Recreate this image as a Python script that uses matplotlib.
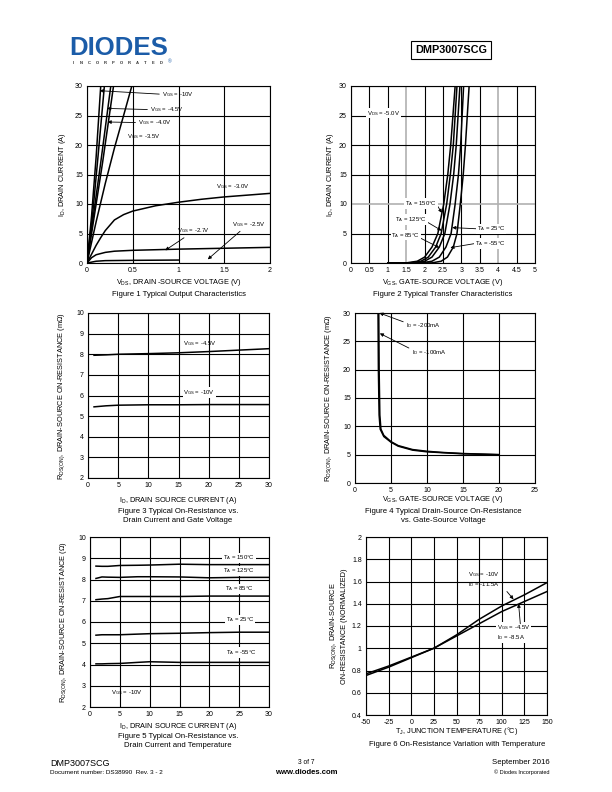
import matplotlib
matplotlib.use("Agg")
import matplotlib.pyplot as plt
from matplotlib.lines import Line2D

plt.rcParams['font.family'] = ['Liberation Sans', 'DejaVu Sans']
plt.rcParams['mathtext.default'] = 'regular'

# ---- Figure 1: output characteristics (VDS in V, ID in A)
out_vgs10_v = [0, 0.05, 0.10, 0.15]
out_vgs10_i = [0, 8, 18, 30]
out_vgs45_v = [0, 0.06, 0.12, 0.19]
out_vgs45_i = [0, 8, 18, 30]
out_vgs40_v = [0, 0.07, 0.15, 0.26]
out_vgs40_i = [0, 8, 17, 30]
out_extra_v = [0, 0.08, 0.17, 0.29]
out_extra_i = [0, 8, 17, 30]
out_vgs35_v = [0, 0.1, 0.2, 0.3, 0.4, 0.49]
out_vgs35_i = [0, 7, 13.5, 19.5, 25, 30]
out_vgs30_v = [0, 0.05, 0.1, 0.15, 0.2, 0.3, 0.4, 0.5, 0.75, 1.0, 1.25, 1.5, 1.75, 2.0]
out_vgs30_i = [0, 1.5, 3.0, 4.3, 5.5, 7.3, 8.2, 8.8, 9.7, 10.3, 10.8, 11.2, 11.5, 11.8]
out_vgs27_v = [0, 0.05, 0.1, 0.2, 0.3, 0.5, 1.0, 1.5, 2.0]
out_vgs27_i = [0, 0.9, 1.4, 1.8, 2.0, 2.15, 2.35, 2.5, 2.65]
out_vgs25_v = [0, 0.1, 0.2, 0.5, 1.0]
out_vgs25_i = [0, 0.3, 0.4, 0.45, 0.5]

# ---- Figure 2: transfer characteristics (VGS in V, ID in A)
tr_id = [0, 0.02, 0.3, 1.0, 2.7, 5, 10, 15, 20, 25, 30]
tr_150 = [1.0, 1.5, 1.8, 2.0, 2.2, 2.36, 2.52, 2.63, 2.71, 2.77, 2.83]
tr_125 = [1.0, 1.6, 1.9, 2.1, 2.3, 2.45, 2.60, 2.70, 2.78, 2.83, 2.88]
tr_85 = [1.0, 1.7, 2.0, 2.2, 2.4, 2.55, 2.69, 2.79, 2.86, 2.91, 2.96]
tr_25 = [1.0, 1.9, 2.2, 2.4, 2.58, 2.72, 2.83, 2.92, 2.98, 3.02, 3.06]
tr_m55 = [1.0, 2.2, 2.45, 2.62, 2.78, 2.88, 2.97, 3.05, 3.11, 3.16, 3.21]

# ---- Figure 3: RDS(on) vs ID (mOhm)
r3_id = [1, 3, 5, 10, 15, 20, 25, 30]
r3_vgs45 = [7.95, 7.97, 8.0, 8.03, 8.07, 8.13, 8.2, 8.27]
r3_vgs10 = [5.45, 5.5, 5.53, 5.55, 5.55, 5.56, 5.56, 5.56]

# ---- Figure 4: RDS(on) vs VGS (mOhm)
r4_vgs_200 = [3.3, 3.35, 3.45, 3.6, 4, 5, 6, 8, 10, 12, 15, 20]
r4_r_200 = [30, 20, 12, 9.5, 8.4, 7.3, 6.6, 5.9, 5.6, 5.4, 5.2, 5.0]
r4_vgs_100 = [3.2, 3.25, 3.35, 3.5, 4, 5, 6, 8, 10, 15, 20]
r4_r_100 = [30, 20, 12, 9.5, 8.2, 7.2, 6.5, 5.8, 5.5, 5.15, 5.0]

# ---- Figure 5: RDS(on) vs ID and temperature
r5_id = [1, 2, 3, 5, 8, 10, 15, 20, 25, 30]
r5_150 = [8.63, 8.62, 8.62, 8.66, 8.67, 8.68, 8.72, 8.7, 8.7, 8.7]
r5_125 = [8.05, 8.12, 8.11, 8.1, 8.13, 8.13, 8.12, 8.08, 8.1, 8.1]
r5_85 = [7.05, 7.08, 7.1, 7.2, 7.2, 7.2, 7.2, 7.22, 7.22, 7.22]
r5_25 = [5.38, 5.4, 5.4, 5.4, 5.43, 5.45, 5.47, 5.5, 5.52, 5.52]
r5_m55 = [4.03, 4.03, 4.04, 4.05, 4.1, 4.13, 4.1, 4.1, 4.1, 4.1]

# ---- Figure 6: normalized RDS(on) vs Tj
r6_tj = [-50, -25, 0, 25, 50, 75, 100, 125, 150]
r6_vgs10 = [0.77, 0.84, 0.92, 1.0, 1.12, 1.26, 1.38, 1.48, 1.59]
r6_vgs45 = [0.755, 0.83, 0.915, 1.0, 1.11, 1.22, 1.33, 1.42, 1.51]

LBL = 5.3
TICK = 5
ANN = 4.3
CAP = 5.6


def fig_pos(x0, y0, x1, y1):
    return [x0 / 612, 1 - y1 / 792, (x1 - x0) / 612, (y1 - y0) / 792]


def px_text(x, y, text, **kw):
    fig.text(x / 612, 1 - y / 792, text, **kw)


def setup_axes(ax, xlim, ylim, xticks, yticks):
    ax.set_xlim(*xlim)
    ax.set_ylim(*ylim)
    ax.set_xticks(xticks)
    ax.set_yticks(yticks)
    ax.set_xticklabels(['%g' % t for t in xticks])
    ax.set_yticklabels(['%g' % t for t in yticks])
    ax.grid(True, color='black', linewidth=0.8)
    ax.set_axisbelow(True)
    ax.tick_params(length=0, labelsize=TICK, pad=3)
    for s in ax.spines.values():
        s.set_linewidth(0.8)


def axis_titles(xlabel, xpos, ylabel, ypos):
    px_text(xpos[0], xpos[1], xlabel, fontsize=LBL, ha='center', va='center')
    px_text(ypos[0], ypos[1], ylabel, fontsize=LBL, ha='center', va='center', rotation=90,
            linespacing=1.4)


def note(ax, text, xy, xytext, relpos=(0, 0.5), bg=False):
    bbox = dict(facecolor='white', edgecolor='none', pad=0.5) if bg else None
    ax.annotate(text, xy=xy, xytext=xytext, fontsize=ANN, va='center', ha='left', bbox=bbox,
                arrowprops=dict(arrowstyle='-|>', color='black', lw=0.6, mutation_scale=5,
                                shrinkA=0, shrinkB=0, relpos=relpos))


def label(ax, text, x, y, bg=False):
    bbox = dict(facecolor='white', edgecolor='none', pad=0.5) if bg else None
    ax.text(x, y, text, fontsize=ANN, va='center', ha='left', bbox=bbox)


def caption(x, y, text):
    px_text(x, y, text, fontsize=CAP, ha='center', va='center', linespacing=1.3)


fig = plt.figure(figsize=(6.12, 7.92), dpi=100)

# header
px_text(69, 48, 'DIODES', fontsize=18.5, fontweight='bold', color='#1b5ca8', va='center', ha='left')
fig.add_artist(Line2D([70 / 612, 166 / 612], [1 - 48.5 / 792, 1 - 48.5 / 792], color='white', lw=0.7))
for k, ch in enumerate('INCORPORATED'):
    px_text(73 + k * 8.0, 63, ch, fontsize=3, fontweight='bold', color='#333333', va='center', ha='center')
px_text(170, 62, '®', fontsize=3.5, color='#1b5ca8', va='center', ha='center')
px_text(451, 50, 'DMP3007SCG', fontsize=7.8, fontweight='bold', ha='center', va='center',
        bbox=dict(facecolor='white', edgecolor='black', linewidth=0.8, pad=2.8))

# Figure 1
ax1 = fig.add_axes(fig_pos(87, 86, 270, 263))
setup_axes(ax1, (0, 2), (0, 30), [0, 0.5, 1, 1.5, 2], [0, 5, 10, 15, 20, 25, 30])
for vx, iy in [(out_vgs10_v, out_vgs10_i), (out_vgs45_v, out_vgs45_i), (out_vgs40_v, out_vgs40_i),
               (out_extra_v, out_extra_i), (out_vgs35_v, out_vgs35_i), (out_vgs30_v, out_vgs30_i),
               (out_vgs27_v, out_vgs27_i), (out_vgs25_v, out_vgs25_i)]:
    ax1.plot(vx, iy, color='black', lw=1.1)
note(ax1, 'V$_{GS}$ = -10V', (0.14, 29.2), (0.82, 28.6))
note(ax1, 'V$_{GS}$ = -4.5V', (0.22, 26.2), (0.69, 26.0))
note(ax1, 'V$_{GS}$ = -4.0V', (0.225, 23.9), (0.56, 23.8))
label(ax1, 'V$_{GS}$ = -3.5V', 0.44, 21.5)
label(ax1, 'V$_{GS}$ = -3.0V', 1.41, 12.9)
note(ax1, 'V$_{GS}$ = -2.7V', (0.855, 2.15), (0.98, 5.5), relpos=(0.35, 0))
note(ax1, 'V$_{GS}$ = -2.5V', (1.32, 0.62), (1.58, 6.6), relpos=(0.35, 0))
axis_titles('V$_{DS}$, DRAIN -SOURCE VOLTAGE (V)', (179, 283),
            'I$_{D}$, DRAIN CURRENT (A)', (63, 175))
caption(179, 294, 'Figure 1 Typical Output Characteristics')

# Figure 2
ax2 = fig.add_axes(fig_pos(351, 86, 535, 263))
xt2 = [0, 0.5, 1, 1.5, 2, 2.5, 3, 3.5, 4, 4.5, 5]
yt2 = [0, 5, 10, 15, 20, 25, 30]
setup_axes(ax2, (0, 5), (0, 30), xt2, yt2)
for gl, t in zip(ax2.get_xgridlines(), xt2):
    if t in (1.5, 4):
        gl.set_color('#b0b0b0')
        gl.set_linewidth(1.2)
for gl, t in zip(ax2.get_ygridlines(), yt2):
    if t == 10:
        gl.set_color('#b0b0b0')
        gl.set_linewidth(1.2)
for vx in [tr_150, tr_125, tr_85, tr_25, tr_m55]:
    ax2.plot(vx, tr_id, color='black', lw=1.1)
label(ax2, 'V$_{DS}$ = -5.0V', 0.43, 25.4, bg=True)
note(ax2, 'T$_{A}$ = 150°C', (2.47, 8.5), (1.47, 10.1), relpos=(1, 0.3), bg=True)
note(ax2, 'T$_{A}$ = 125°C', (2.46, 5.5), (1.2, 7.4), relpos=(1, 0.2), bg=True)
note(ax2, 'T$_{A}$ = 85°C', (2.4, 2.6), (1.1, 4.7), relpos=(1, 0.2), bg=True)
note(ax2, 'T$_{A}$ = 25°C', (2.75, 6.0), (3.42, 5.8), bg=True)
note(ax2, 'T$_{A}$ = -55°C', (2.7, 2.6), (3.37, 3.3), bg=True)
axis_titles('V$_{GS}$, GATE-SOURCE VOLTAGE (V)', (443, 283),
            'I$_{D}$, DRAIN CURRENT (A)', (330, 175))
caption(443, 294, 'Figure 2 Typical Transfer Characteristics')

# Figure 3
ax3 = fig.add_axes(fig_pos(88, 313, 269, 478))
setup_axes(ax3, (0, 30), (2, 10), [0, 5, 10, 15, 20, 25, 30], [2, 3, 4, 5, 6, 7, 8, 9, 10])
ax3.plot(r3_id, r3_vgs45, color='black', lw=1.1)
ax3.plot(r3_id, r3_vgs10, color='black', lw=1.1)
label(ax3, 'V$_{GS}$ = -4.5V', 15.8, 8.54)
label(ax3, 'V$_{GS}$ = -10V', 15.8, 6.14, bg=True)
axis_titles('I$_{D}$, DRAIN SOURCE CURRENT (A)', (178, 501),
            'R$_{DS(ON)}$, DRAIN-SOURCE ON-RESISTANCE (mΩ)', (62, 396))
caption(178, 516, 'Figure 3 Typical On-Resistance vs.\nDrain Current and Gate Voltage')

# Figure 4
ax4 = fig.add_axes(fig_pos(355, 313, 535, 483))
setup_axes(ax4, (0, 25), (0, 30), [0, 5, 10, 15, 20, 25], [0, 5, 10, 15, 20, 25, 30])
ax4.plot(r4_vgs_200, r4_r_200, color='black', lw=1.1)
ax4.plot(r4_vgs_100, r4_r_100, color='black', lw=1.1)
note(ax4, 'I$_{D}$ = -200mA', (3.4, 30), (7.08, 27.8), relpos=(0, 0.8))
note(ax4, 'I$_{D}$ = -100mA', (3.45, 26.4), (7.87, 23.1), relpos=(0, 0.8))
axis_titles('V$_{GS}$, GATE-SOURCE VOLTAGE (V)', (443, 500),
            'R$_{DS(ON)}$, DRAIN-SOURCE ON-RESISTANCE (mΩ)', (329, 398))
caption(443, 516, 'Figure 4 Typical Drain-Source On-Resistance\nvs. Gate-Source Voltage')

# Figure 5
ax5 = fig.add_axes(fig_pos(90, 537, 269, 707))
setup_axes(ax5, (0, 30), (2, 10), [0, 5, 10, 15, 20, 25, 30], [2, 3, 4, 5, 6, 7, 8, 9, 10])
for ry in [r5_150, r5_125, r5_85, r5_25, r5_m55]:
    ax5.plot(r5_id, ry, color='black', lw=1.1)
label(ax5, 'T$_{A}$ = 150°C', 22.3, 9.02, bg=True)
label(ax5, 'T$_{A}$ = 125°C', 22.3, 8.4, bg=True)
label(ax5, 'T$_{A}$ = 85°C', 22.6, 7.56, bg=True)
label(ax5, 'T$_{A}$ = 25°C', 22.8, 6.1, bg=True)
label(ax5, 'T$_{A}$ = -55°C', 22.8, 4.56, bg=True)
label(ax5, 'V$_{GS}$ = -10V', 3.6, 2.66)
axis_titles('I$_{D}$, DRAIN SOURCE CURRENT (A)', (178, 726),
            'R$_{DS(ON)}$, DRAIN-SOURCE ON-RESISTANCE (Ω)', (64, 622))
caption(178, 741, 'Figure 5 Typical On-Resistance vs.\nDrain Current and Temperature')

# Figure 6
ax6 = fig.add_axes(fig_pos(366, 537, 547, 715))
setup_axes(ax6, (-50, 150), (0.4, 2), [-50, -25, 0, 25, 50, 75, 100, 125, 150],
           [0.4, 0.6, 0.8, 1.0, 1.2, 1.4, 1.6, 1.8, 2.0])
ax6.plot(r6_tj, r6_vgs10, color='black', lw=1.1)
ax6.plot(r6_tj, r6_vgs45, color='black', lw=1.1)
label(ax6, 'V$_{GS}$ = -10V\nI$_{D}$ = -11.5A', 63, 1.62)
ax6.annotate('', xy=(113, 1.44), xytext=(105.7, 1.51),
             arrowprops=dict(arrowstyle='-|>', color='black', lw=0.6, mutation_scale=5,
                             shrinkA=0, shrinkB=0))
label(ax6, 'V$_{GS}$ = -4.5V\nI$_{D}$ = -8.5A', 94.6, 1.14, bg=True)
ax6.annotate('', xy=(118.6, 1.40), xytext=(120.5, 1.22),
             arrowprops=dict(arrowstyle='-|>', color='black', lw=0.6, mutation_scale=5,
                             shrinkA=0, shrinkB=0))
axis_titles('T$_{J}$, JUNCTION TEMPERATURE (°C)', (457, 731),
            'R$_{DS(ON)}$, DRAIN-SOURCE\nON-RESISTANCE (NORMALIZED)', (338, 626))
caption(457, 744, 'Figure 6 On-Resistance Variation with Temperature')

# footer
px_text(50, 763, 'DMP3007SCG', fontsize=6.5, va='center', ha='left')
px_text(50, 773, 'Document number: DS38990  Rev. 3 - 2', fontsize=4.6, va='center', ha='left')
px_text(306, 762, '3 of 7', fontsize=4.8, va='center', ha='center')
px_text(306, 772, 'www.diodes.com', fontsize=5.6, fontweight='bold', va='center', ha='center')
px_text(550, 763, 'September 2016', fontsize=5.6, va='center', ha='right')
px_text(550, 772, '© Diodes Incorporated', fontsize=4, va='center', ha='right')

fig.savefig('out.png', dpi=100)
